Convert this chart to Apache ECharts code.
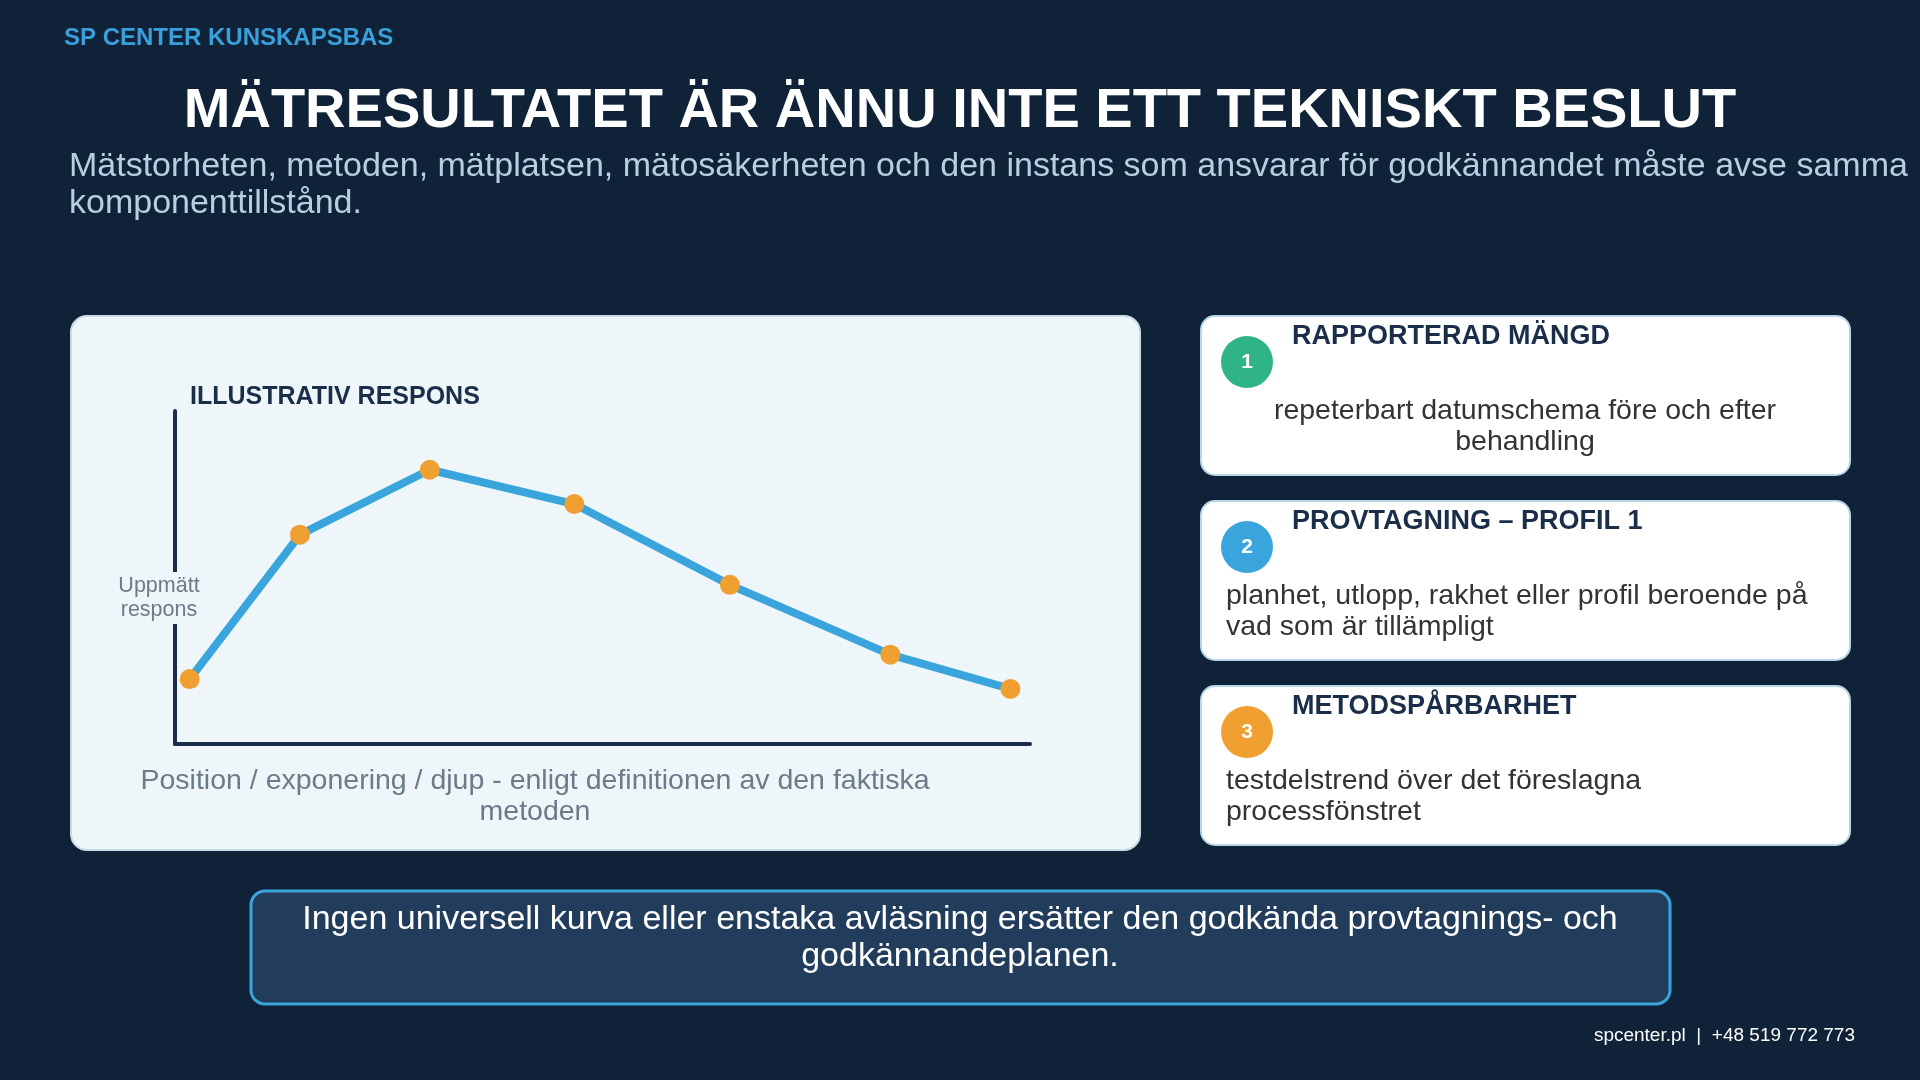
<!DOCTYPE html>
<html><head><meta charset="utf-8">
<script src="https://cdn.jsdelivr.net/npm/echarts@6/dist/echarts.min.js"></script>
<style>html,body{margin:0;padding:0;background:#0f2238;}#c{width:1920px;height:1080px;}</style>
</head><body><div id="c"></div>
<script>
const positions = [12, 102, 208, 326, 453, 584, 682];
const responses = [53, 171, 224, 196, 130, 73, 45];
const cardTitles = ['RAPPORTERAD MÄNGD', 'PROVTAGNING – PROFIL 1', 'METODSPÅRBARHET'];
const cardTexts = ['repeterbart datumschema före och efter\nbehandling', 'planhet, utlopp, rakhet eller profil beroende på\nvad som är tillämpligt', 'testdelstrend över det föreslagna\nprocessfönstret'];
const cardColors = ['#2fb585', '#3aa5dc', '#f0a030'];
const F = 'Liberation Sans, Arial, sans-serif';
const chart = echarts.init(document.getElementById('c'));
const g = [];
g.push({type:'text',left:64,top:26,style:{text:'SP CENTER KUNSKAPSBAS',fill:'#3aa0db',font:'bold 24px '+F}});
g.push({type:'text',x:960,y:112,style:{text:'MÄTRESULTATET ÄR ÄNNU INTE ETT TEKNISKT BESLUT',fill:'#fff',font:'bold 56px '+F,textAlign:'center',textVerticalAlign:'middle'}});
g.push({type:'text',left:69,top:148,style:{text:'Mätstorheten, metoden, mätplatsen, mätosäkerheten och den instans som ansvarar för godkännandet måste avse samma\nkomponenttillstånd.',fill:'#b8cfe0',font:'34px '+F,lineHeight:37}});
g.push({type:'rect',shape:{x:71,y:316,width:1069,height:534,r:16},style:{fill:'#eef6f9',stroke:'#c8dce8',lineWidth:2},z:-1});
g.push({type:'text',left:190,top:385,style:{text:'ILLUSTRATIV RESPONS',fill:'#1a2e4a',font:'bold 25px '+F}});
g.push({type:'text',x:159,y:598,z:100,style:{text:'Uppmätt\nrespons',fill:'#6b7b8a',font:'21.5px '+F,textAlign:'center',textVerticalAlign:'middle',lineHeight:24,backgroundColor:'#eef6f9',padding:[2,2]}});
g.push({type:'text',x:535,y:797,style:{text:'Position / exponering / djup - enligt definitionen av den faktiska\nmetoden',fill:'#6b7b8a',font:'28.5px '+F,textAlign:'center',textVerticalAlign:'middle',lineHeight:31}});
const tops=[316,501,686];
tops.forEach((t,i)=>{
  g.push({type:'rect',shape:{x:1201,y:t,width:649,height:159,r:14},style:{fill:'#fff',stroke:'#b7d6e8',lineWidth:2}});
  g.push({type:'circle',shape:{cx:1247,cy:t+46,r:26},style:{fill:cardColors[i]}});
  g.push({type:'text',x:1247,y:t+46,style:{text:String(i+1),fill:'#fff',font:'bold 21px '+F,textAlign:'center',textVerticalAlign:'middle'}});
  g.push({type:'text',left:1292,top:t+7,style:{text:cardTitles[i],fill:'#1a2e4a',font:'bold 27px '+F}});
  if(i===0) g.push({type:'text',x:1525,y:t+111,style:{text:cardTexts[i],fill:'#333',font:'28.5px '+F,textAlign:'center',textVerticalAlign:'middle',lineHeight:31}});
  else g.push({type:'text',x:1226,y:t+111,style:{text:cardTexts[i],fill:'#333',font:'28.5px '+F,textAlign:'left',textVerticalAlign:'middle',lineHeight:31}});
});
g.push({type:'rect',shape:{x:251,y:891,width:1419,height:113,r:14},style:{fill:'#223d5c',stroke:'#3aa5dc',lineWidth:3}});
g.push({type:'text',x:960,y:938,style:{text:'Ingen universell kurva eller enstaka avläsning ersätter den godkända provtagnings- och\ngodkännandeplanen.',fill:'#fff',font:'34px '+F,textAlign:'center',textVerticalAlign:'middle',lineHeight:37}});
g.push({type:'text',x:1855,y:1036,style:{text:'spcenter.pl  |  +48 519 772 773',fill:'#fff',font:'19px '+F,textAlign:'right',textVerticalAlign:'middle'}});
chart.setOption({
  backgroundColor:'#0f2238',
  animation:false,
  graphic:g,
  grid:{left:175,top:411,width:855,height:333},
  xAxis:{type:'value',min:0,max:698,axisLine:{show:true,lineStyle:{color:'#1a2e4a',width:4}},axisTick:{show:false},axisLabel:{show:false},splitLine:{show:false}},
  yAxis:{type:'value',min:0,max:272,axisLine:{show:true,lineStyle:{color:'#1a2e4a',width:4}},axisTick:{show:false},axisLabel:{show:false},splitLine:{show:false}},
  series:[{type:'line',data:positions.map((p,i)=>[p,responses[i]]),lineStyle:{color:'#3aa5dc',width:8},itemStyle:{color:'#f0a030'},symbol:'circle',symbolSize:20,z:5}]
});
</script></body></html>
